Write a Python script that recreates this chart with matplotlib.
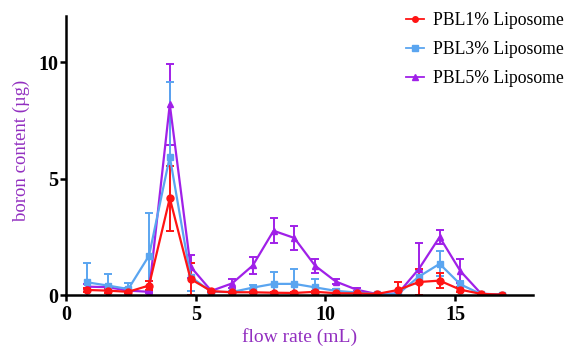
import numpy as np
import matplotlib.pyplot as plt
from matplotlib.lines import Line2D

# flow rate fractions (mL)
flow = [0.8, 1.6, 2.4, 3.2, 4.0, 4.8, 5.6, 6.4, 7.2, 8.0, 8.8,
        9.6, 10.4, 11.2, 12.0, 12.8, 13.6, 14.4, 15.2, 16.0, 16.8]

# boron content (ug), mean and error
pbl1 = [0.23, 0.20, 0.15, 0.42, 4.17, 0.70, 0.18, 0.13, 0.13, 0.11, 0.10,
        0.15, 0.09, 0.08, 0.06, 0.23, 0.57, 0.63, 0.24, 0.06, 0.03]
pbl1_err = [0.10, 0.10, 0.06, 0.20, 1.40, 0.68, 0.04, 0.03, 0.03, 0.03, 0.03,
            0.04, 0.03, 0.02, 0.02, 0.32, 0.55, 0.32, 0.10, 0.02, 0.01]

pbl3 = [0.56, 0.42, 0.27, 1.70, 5.95, 0.80, 0.15, 0.14, 0.33, 0.49, 0.49,
        0.34, 0.19, 0.12, 0.05, 0.06, 0.80, 1.35, 0.47, 0.05, 0.03]
pbl3_err = [0.82, 0.50, 0.27, 1.83, 3.20, 0.60, 0.04, 0.05, 0.10, 0.49, 0.63,
            0.36, 0.10, 0.04, 0.02, 0.03, 0.30, 0.53, 0.15, 0.02, 0.01]

pbl5 = [0.37, 0.35, 0.20, 0.15, 8.20, 1.23, 0.19, 0.51, 1.28, 2.77, 2.46,
        1.27, 0.59, 0.24, 0.05, 0.08, 1.13, 2.50, 1.04, 0.07, 0.03]
pbl5_err = [0.10, 0.08, 0.10, 0.05, 1.73, 0.50, 0.05, 0.19, 0.36, 0.54, 0.50,
            0.30, 0.11, 0.06, 0.02, 0.03, 1.11, 0.29, 0.52, 0.02, 0.01]

labels = ['PBL1% Liposome', 'PBL3% Liposome', 'PBL5% Liposome']
colors = ['#ff1414', '#5aa5f0', '#a020e8']
markers = ['o', 's', '^']

plt.rcParams['font.family'] = ['Liberation Serif', 'DejaVu Serif']

fig = plt.figure(figsize=(5.68, 3.47), dpi=100)
ax = fig.add_axes([0.1162, 0.149, 0.8222, 0.8058])

# purple drawn first so red ends up on top
series = [(pbl5, pbl5_err), (pbl3, pbl3_err), (pbl1, pbl1_err)]
for (y, e), c, m in zip(series, colors[::-1], markers[::-1]):
    ax.errorbar(flow, y, yerr=e, color=c, marker=m, markersize=5,
                linewidth=1.6, elinewidth=1.4, capsize=3, capthick=1.4)

ax.set_xlim(0, 18)
ax.set_ylim(0, 12)
ax.set_xticks([0, 5, 10, 15])
ax.set_yticks([0, 5, 10])
for s in ['top', 'right']:
    ax.spines[s].set_visible(False)
for s in ['left', 'bottom']:
    ax.spines[s].set_linewidth(1.8)
ax.tick_params(width=1.8, length=4, labelsize=14.5)
ax.tick_params(axis='y', pad=1.5)
ax.tick_params(axis='x', pad=3)
for t in ax.get_xticklabels() + ax.get_yticklabels():
    t.set_fontweight('bold')

ax.set_xlabel('flow rate (mL)', color='#922fc0', fontsize=14)
ax.set_ylabel('boron content (\u00b5g)', color='#922fc0', fontsize=13.5)
ax.xaxis.set_label_coords(0.5, -0.118)
ax.yaxis.set_label_coords(-0.077, 0.52)

handles = [Line2D([], [], color=c, marker=m, markersize=4, linewidth=1.3)
           for c, m in zip(colors, markers)]
ax.legend(handles, labels, frameon=False, loc='upper left',
          bbox_to_anchor=(406 / 568, 1 - 12 / 347), bbox_transform=fig.transFigure,
          borderpad=0, borderaxespad=0, fontsize=12.7,
          handlelength=1.0, handletextpad=0.55, labelspacing=0.68)

fig.savefig('out.png', dpi=100)
